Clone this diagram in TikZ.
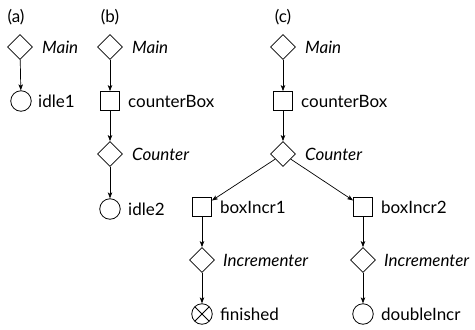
\documentclass[tikz,border=0pt]{standalone}
\usepackage{fontspec}
\setmainfont{Lato}
\usetikzlibrary{shapes.geometric,arrows.meta}
\begin{document}
\begin{tikzpicture}[x=1pt,y=1pt,
  every node/.style={font=\fontsize{17}{20}\selectfont},
  dia/.style={draw,diamond,aspect=1,minimum width=25pt,minimum height=25pt,inner sep=0pt,line width=0.8pt},
  sq/.style={draw,rectangle,minimum size=19pt,inner sep=0pt,line width=0.8pt},
  circ/.style={draw,circle,minimum size=20.5pt,inner sep=0pt,line width=0.8pt},
  xcirc/.style={circ,path picture={
      \draw[line width=0.8pt] (path picture bounding box.north west) -- (path picture bounding box.south east)
        (path picture bounding box.north east) -- (path picture bounding box.south west);}},
  lab/.style={anchor=west,inner sep=0pt},
  arr/.style={-{Stealth[length=6pt,width=4.5pt,inset=1.5pt]},line width=0.7pt}]
\useasboundingbox (0,0) rectangle (475,-330);
% (a)
\node (la) at (16,-17) {(a)};
\node[dia] (aM) at (20,-47) {};
\node[lab] (aMt) at (42,-47) {\itshape Main};
\node[circ] (aI) at (21,-101) {};
\node[lab] (aIt) at (38,-101) {idle1};
\draw[arr] (aM) -- (aI);
% (b)
\node (lb) at (110,-17) {(b)};
\node[dia] (bM) at (110,-47) {};
\node[lab] (bMt) at (132,-47) {\itshape Main};
\node[sq] (bB) at (110,-101) {};
\node[lab] (bBt) at (128,-101) {counterBox};
\node[dia] (bC) at (110,-154) {};
\node[lab] (bCt) at (132,-154) {\itshape Counter};
\node[circ] (bI) at (110,-209) {};
\node[lab] (bIt) at (128,-209) {idle2};
\draw[arr] (bM) -- (bB);
\draw[arr] (bB) -- (bC);
\draw[arr] (bC) -- (bI);
% (c)
\node (lc) at (283,-17) {(c)};
\node[dia] (cM) at (283,-47) {};
\node[lab] (cMt) at (305,-47) {\itshape Main};
\node[sq] (cB) at (283,-101) {};
\node[lab] (cBt) at (301,-101) {counterBox};
\node[dia] (cC) at (283,-154) {};
\node[lab] (cCt) at (305,-154) {\itshape Counter};
\node[sq] (cB1) at (202,-207) {};
\node[lab] (cB1t) at (220,-207) {boxIncr1};
\node[sq] (cB2) at (363,-207) {};
\node[lab] (cB2t) at (381,-207) {boxIncr2};
\node[dia] (cI1) at (202,-260) {};
\node[lab] (cI1t) at (223,-260) {\itshape Incrementer};
\node[dia] (cI2) at (363,-260) {};
\node[lab] (cI2t) at (384,-260) {\itshape Incrementer};
\node[xcirc] (cF) at (202,-314) {};
\node[lab] (cFt) at (220,-314) {finished};
\node[circ] (cD) at (363,-314) {};
\node[lab] (cDt) at (381,-314) {doubleIncr};
\draw[arr] (cM) -- (cB);
\draw[arr] (cB) -- (cC);
\draw[arr] (cC) -- (cB1);
\draw[arr] (cC) -- (cB2);
\draw[arr] (cB1) -- (cI1);
\draw[arr] (cB2) -- (cI2);
\draw[arr] (cI1) -- (cF);
\draw[arr] (cI2) -- (cD);
\end{tikzpicture}
\end{document}
